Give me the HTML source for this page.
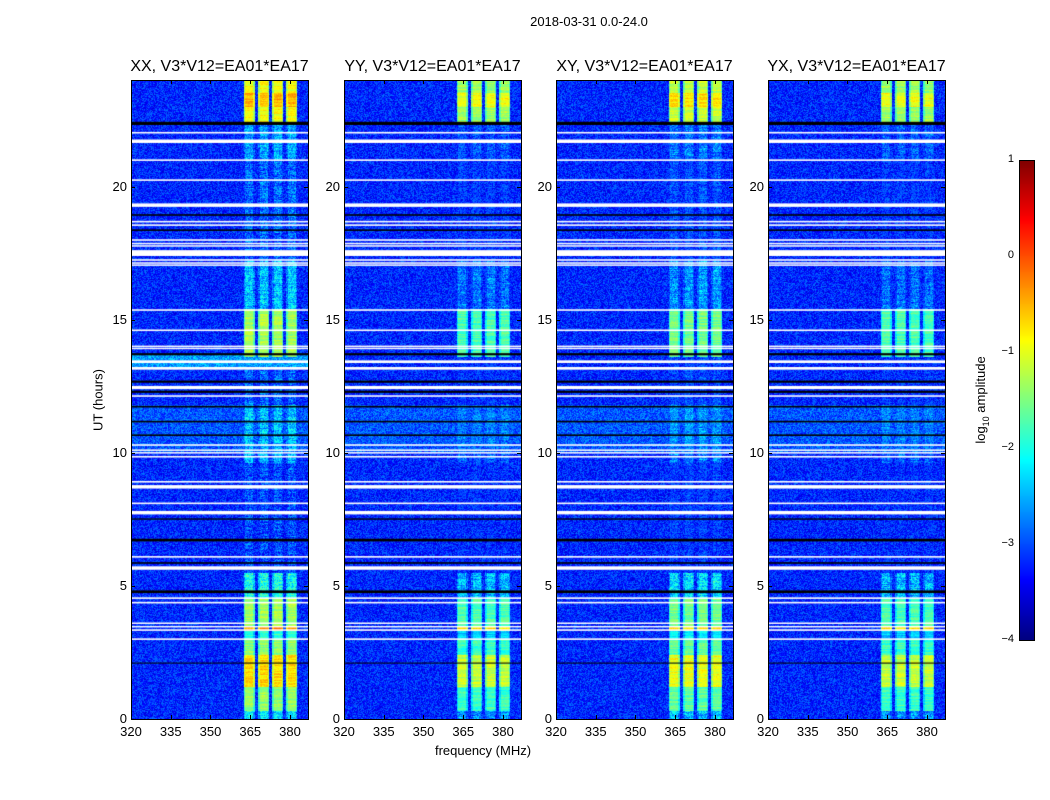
<!DOCTYPE html>
<html><head><meta charset="utf-8">
<style>
body{margin:0;background:#fff;width:1050px;height:800px;position:relative;overflow:hidden;font-family:"Liberation Sans","DejaVu Sans",sans-serif;color:#000}
.abs{position:absolute}
.ttl{position:absolute;font-size:16px;white-space:nowrap;transform:translateX(-50%)}
.tk{position:absolute;font-size:13px;white-space:nowrap}
canvas{position:absolute}
.frame{position:absolute;border:1px solid #000;box-sizing:border-box;pointer-events:none}
</style></head><body>
<div class="abs" style="left:589px;top:14px;font-size:13px;transform:translateX(-50%)">2018-03-31 0.0-24.0</div>
<div class="abs" style="left:98px;top:400px;font-size:13px;transform:translate(-50%,-50%) rotate(-90deg);white-space:nowrap">UT (hours)</div>
<div class="abs" style="left:483px;top:743px;font-size:13px;transform:translateX(-50%);white-space:nowrap">frequency (MHz)</div>
<div class="abs" style="left:982px;top:400px;font-size:13px;transform:translate(-50%,-50%) rotate(-90deg);white-space:nowrap">log<sub style="font-size:9px">10</sub> amplitude</div>
<div id="root"></div>
<canvas id="cbar" width="15" height="480" style="left:1019px;top:160px"></canvas>
<div class="frame" style="left:1019px;top:160px;width:16px;height:481px"></div>
<script>
const panelNames=["XX","YY","XY","YX"];
const panelGain=[0,-0.45,-0.25,-0.45];
const xTicks=[320,335,350,365,380];
const yTicks=[0,5,10,15,20];
const cbTicks=[1,0,-1,-2,-3,-4];
const bandStarts=[362.5,368.0,373.3,378.6];
const bandWidth=4.2;
const bandSegStart=[0,0.3,1.2,2.4,3.0,3.3,3.45,4.5,5.5,9.6,10.3,11.8,13.6,15.4,16.4,17.2,21,22.4,23,23.5];
const bandSegEnd=[0.3,1.2,2.4,3.0,3.3,3.45,4.5,5.5,9.6,10.3,11.8,13.6,15.4,16.4,17.2,21,22.3,23,23.5,24];
const bandSegLevel=[-2.2,-1.4,-0.7,-1.4,-1.9,-0.35,-1.3,-2.0,-3.0,-2.5,-2.4,-2.9,-1.3,-2.4,-2.4,-2.85,-2.55,-0.9,-0.5,-0.9];
const bgLevel=-3.2;
const whiteFlags=[22.02,21.7,20.99,20.24,19.3,18.68,18.55,17.99,17.86,17.77,17.5,17.24,17.13,17.05,15.36,14.6,14.0,13.92,13.42,13.17,12.45,12.13,10.29,10.1,10.0,9.85,8.91,8.72,8.1,7.75,6.09,5.67,4.54,4.37,3.6,3.47,3.34,3.0];
const whiteWidths=[0.06,0.13,0.06,0.06,0.13,0.06,0.06,0.06,0.05,0.05,0.22,0.06,0.05,0.05,0.06,0.06,0.05,0.05,0.1,0.1,0.12,0.06,0.06,0.05,0.05,0.06,0.06,0.13,0.06,0.13,0.06,0.13,0.06,0.06,0.05,0.05,0.06,0.06];
const blackFlags=[22.37,18.93,18.36,13.7,12.67,12.29,11.73,11.17,10.66,7.51,6.72,5.86,4.78,2.1];
const blackWidths=[0.12,0.06,0.06,0.08,0.08,0.08,0.06,0.06,0.06,0.05,0.1,0.06,0.1,0.04];

const PW=177,PH=639,TOP=80,LEFTS=[131,344,556,768],FMIN=320,FMAX=386.8,VMIN=-4,VMAX=1;
const xs=f=>(f-FMIN)/(FMAX-FMIN)*PW;
const ys=t=>PH*(1-t/24);
function clamp(v){return v<0?0:v>1?1:v;}
function jet(v){const x=clamp((v-VMIN)/(VMAX-VMIN));return [clamp(1.5-Math.abs(4*x-3)),clamp(1.5-Math.abs(4*x-2)),clamp(1.5-Math.abs(4*x-1))].map(c=>Math.round(c*255));}
function hash(a,b){let h=(a*374761393+b*668265263)|0;h=(h^(h>>>13))*1274126177|0;return ((h^(h>>>16))>>>0)/4294967296;}
function bandLevelAt(t){for(let i=0;i<bandSegStart.length;i++)if(t>=bandSegStart[i]&&t<bandSegEnd[i])return bandSegLevel[i];return null;}
const root=document.getElementById('root');
panelNames.forEach((nm,p)=>{
  const L=LEFTS[p];
  const c=document.createElement('canvas');c.width=PW;c.height=PH;c.style.left=L+'px';c.style.top=TOP+'px';
  
  
  root.appendChild(c);
  const ctx=c.getContext('2d');const img=ctx.createImageData(PW,PH);
  for(let py=0;py<PH;py++){
    const t=24*(1-(py+0.5)/PH);
    let bg=bgLevel;
    if(p==0&&t>13.2&&t<13.7)bg=-2.6;
    if(t>10&&t<11.8)bg=-2.95;
    const bl=bandLevelAt(t);
    for(let px=0;px<PW;px++){
      const f=FMIN+(px+0.5)/PW*(FMAX-FMIN);
      let v=bg+(hash(px+p*1000,py)-0.5)*0.8;
      if(bl!==null){
        for(let b=0;b<bandStarts.length;b++){
          if(f>=bandStarts[b]&&f<bandStarts[b]+bandWidth){
            const e=Math.min(f-bandStarts[b],bandStarts[b]+bandWidth-f);
            const strong=bl>-2;
            const lv=bl+panelGain[p]-(e<0.6?0.4:0)+(hash(py,b+p*7)-0.5)*0.4+(hash(px,py+p*99)-0.5)*(strong?0.3:0.9);
            v=Math.max(v,lv);
          }
        }
      }
      const col=jet(v);const k=(py*PW+px)*4;
      img.data[k]=col[0];img.data[k+1]=col[1];img.data[k+2]=col[2];img.data[k+3]=255;
    }
  }
  ctx.putImageData(img,0,0);
  ctx.fillStyle='#fff';
  whiteFlags.forEach((t,i)=>{const y0=ys(t+whiteWidths[i]/2),y1=ys(t-whiteWidths[i]/2);ctx.fillRect(0,y0,PW,Math.max(1.5,y1-y0));});
  ctx.fillStyle='#000';
  blackFlags.forEach((t,i)=>{const y0=ys(t+blackWidths[i]/2),y1=ys(t-blackWidths[i]/2);ctx.fillRect(0,y0,PW,Math.max(1,y1-y0));});
  const fr=document.createElement('div');fr.className='frame';
  fr.style.cssText=`left:${L}px;top:${TOP}px;width:${PW+1}px;height:${PH+1}px`;
  
  
  root.appendChild(fr);
  const ti=document.createElement('div');ti.className='ttl';ti.style.left=(L+PW/2)+'px';ti.style.top='58px';
  ti.textContent=nm+', V3*V12=EA01*EA17';
  
  
  root.appendChild(ti);
  xTicks.forEach(v=>{
    const x=L+xs(v);
    const d=document.createElement('div');d.className='tk';d.style.left=x+'px';d.style.top='724px';d.style.transform='translateX(-50%)';d.textContent=v;
    
    
    root.appendChild(d);
    [TOP+PH-4,TOP].forEach(yy=>{const m=document.createElement('div');m.className='abs';m.style.cssText=`left:${x}px;top:${yy}px;width:1px;height:4px;background:#000`;root.appendChild(m);});
  });
  yTicks.forEach(v=>{
    const y=TOP+ys(v);
    const d=document.createElement('div');d.className='tk';d.style.right=(1050-L+4)+'px';d.style.top=(y-8)+'px';d.textContent=v;
    
    
    root.appendChild(d);
    [L,L+PW-4].forEach(xx=>{const m=document.createElement('div');m.className='abs';m.style.cssText=`left:${xx}px;top:${y}px;width:4px;height:1px;background:#000`;root.appendChild(m);});
  });
});
const cb=document.getElementById('cbar').getContext('2d');
for(let y=0;y<480;y++){const v=VMAX-(y+0.5)/480*(VMAX-VMIN);const c=jet(v);cb.fillStyle=`rgb(${c[0]},${c[1]},${c[2]})`;cb.fillRect(0,y,15,1);}
cbTicks.forEach(v=>{
  const y=160+(VMAX-v)/(VMAX-VMIN)*480;
  const d=document.createElement('div');d.className='tk';d.style.fontSize='11px';d.style.right=(1050-1014)+'px';d.style.top=(y-7)+'px';
  d.textContent=v<0?'\u2212'+(-v):String(v);
  
  
  root.appendChild(d);
  [1019,1031].forEach(xx=>{const m=document.createElement('div');m.className='abs';m.style.cssText=`left:${xx}px;top:${y}px;width:4px;height:1px;background:#000`;root.appendChild(m);});
});
</script>
</body></html>
